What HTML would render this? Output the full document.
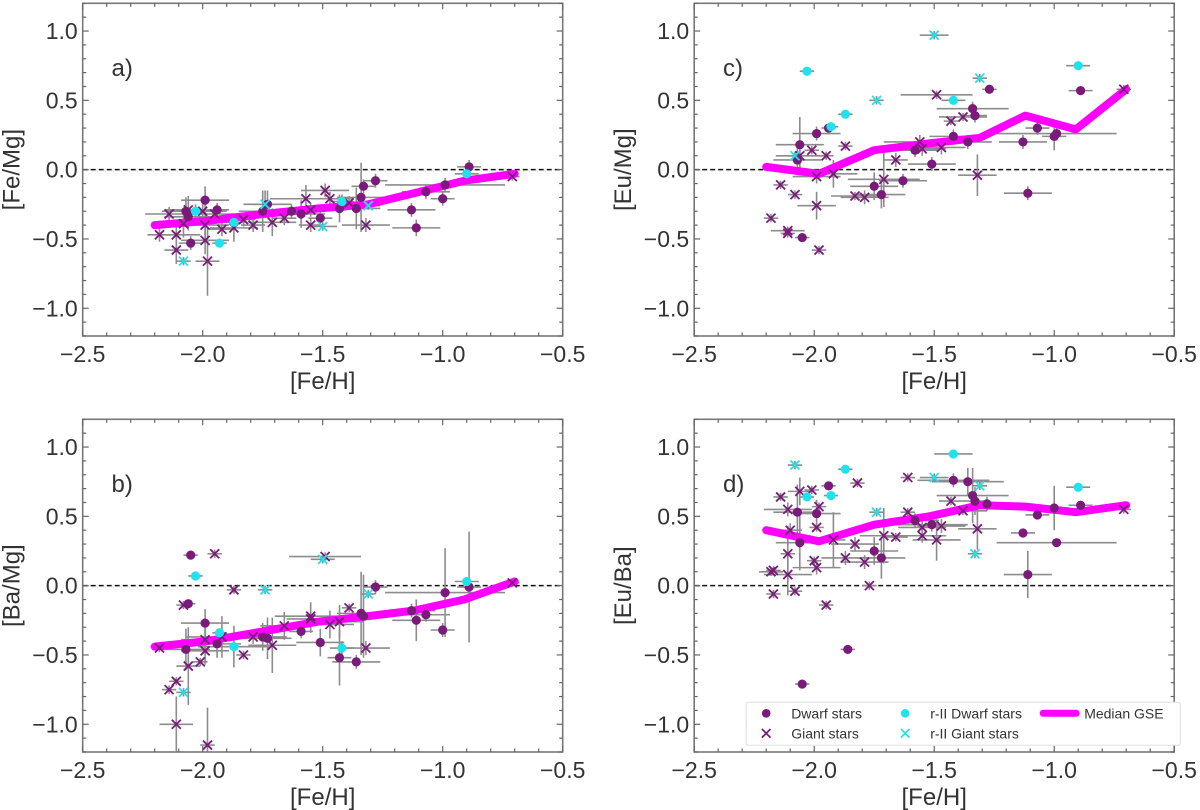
<!DOCTYPE html>
<html><head><meta charset="utf-8">
<style>
html,body{margin:0;padding:0;background:#fff;}
svg{display:block;font-family:"Liberation Sans",sans-serif;}
</style></head>
<body>
<svg id="fig" width="1200" height="810" viewBox="0 0 1200 810" xmlns="http://www.w3.org/2000/svg"></svg>
<script>
// ---- data: each entry [FeH, ratio, xerr, yerr] ----
const medX = [-2.20,-1.98,-1.75,-1.52,-1.31,-1.12,-0.91,-0.70];

// Panel a [Fe/Mg]
const aDwarf = [[-2.07,-0.30,0.1,0.1],[-2.06,-0.34,0.1,0.1],[-2.05,-0.53,0.05,0.05],[-1.99,-0.22,0.1,0.1],[-1.94,-0.29,0.05,0.05],[-1.75,-0.30,0.1,0.15],[-1.73,-0.25,0.1,0.1],[-1.63,-0.30,0.05,0.05],[-1.59,-0.32,0.1,0.1],[-1.51,-0.35,0.05,0.05],[-1.43,-0.28,0.1,0.1],[-1.36,-0.28,0.1,0.15],[-1.34,-0.20,0.1,0.25],[-1.33,-0.12,0.05,0.05],[-1.28,-0.08,0.05,0.05],[-1.13,-0.29,0.1,0.05],[-1.11,-0.42,0.1,0.06],[-1.07,-0.16,0.1,0.05],[-1.00,-0.21,0.05,0.05],[-0.99,-0.11,0.25,0.05],[-0.89,0.02,0.05,0.05]];
const aGiant = [[-2.18,-0.47,0.05,0.05],[-2.14,-0.32,0.1,0.05],[-2.11,-0.47,0.1,0.1],[-2.11,-0.58,0.05,0.1],[-2.08,-0.39,0.1,0.1],[-2.06,-0.29,0.1,0.1],[-2.00,-0.30,0.1,0.1],[-1.99,-0.51,0.1,0.1],[-1.99,-0.40,0.1,0.1],[-1.98,-0.66,0.05,0.25],[-1.95,-0.32,0.1,0.05],[-1.92,-0.43,0.05,0.05],[-1.87,-0.42,0.1,0.1],[-1.83,-0.36,0.05,0.05],[-1.79,-0.40,0.05,0.05],[-1.71,-0.38,0.1,0.1],[-1.66,-0.35,0.05,0.05],[-1.57,-0.21,0.15,0.1],[-1.55,-0.29,0.15,0.05],[-1.55,-0.40,0.05,0.05],[-1.49,-0.15,0.1,0.05],[-1.47,-0.21,0.1,0.05],[-1.39,-0.24,0.05,0.05],[-1.32,-0.40,0.1,0.05],[-0.71,-0.05,0.03,0.03]];
const aRDwarf = [[-2.03,-0.30,0.05,0.05],[-1.93,-0.53,0.03,0.03],[-1.87,-0.38,0.05,0.05],[-1.42,-0.23,0.05,0.05],[-0.90,-0.03,0.05,0.03]];
const aRGiant = [[-2.08,-0.66,0.03,0.03],[-1.74,-0.25,0.05,0.1],[-1.50,-0.41,0.06,0.03],[-1.31,-0.26,0.05,0.03]];
const aMed = [-0.40,-0.37,-0.32,-0.28,-0.25,-0.17,-0.08,-0.03];

// Panel b [Ba/Mg]
const bDwarf = [[-2.05,0.22,0.03,0.03],[-2.06,-0.13,0.03,0.03],[-2.07,-0.46,0.1,0.15],[-1.99,-0.27,0.1,0.1],[-1.94,-0.42,0.1,0.1],[-1.75,-0.37,0.1,0.1],[-1.73,-0.38,0.1,0.15],[-1.59,-0.33,0.05,0.05],[-1.51,-0.41,0.1,0.1],[-1.43,-0.52,0.05,0.2],[-1.36,-0.55,0.1,0.05],[-1.34,-0.20,0.1,0.3],[-1.33,-0.22,0.1,0.3],[-1.28,-0.01,0.05,0.05],[-1.13,-0.18,0.1,0.05],[-1.11,-0.25,0.1,0.15],[-1.07,-0.21,0.1,0.05],[-1.00,-0.32,0.05,0.05],[-0.99,-0.05,0.25,0.32],[-0.89,-0.01,0.05,0.4]];
const bGiant = [[-2.18,-0.45,0.03,0.03],[-2.14,-0.75,0.03,0.03],[-2.11,-1.00,0.07,0.2],[-2.11,-0.69,0.03,0.03],[-2.08,-0.14,0.03,0.03],[-2.06,-0.58,0.05,0.28],[-2.01,-0.55,0.03,0.03],[-1.99,-0.47,0.1,0.1],[-1.99,-0.39,0.1,0.1],[-1.98,-1.15,0.03,0.27],[-1.95,0.23,0.03,0.03],[-1.92,-0.37,0.15,0.15],[-1.87,-0.03,0.03,0.03],[-1.83,-0.50,0.03,0.03],[-1.79,-0.37,0.1,0.05],[-1.71,-0.43,0.1,0.2],[-1.66,-0.29,0.1,0.1],[-1.55,-0.22,0.15,0.1],[-1.55,-0.24,0.1,0.1],[-1.49,0.21,0.15,0.03],[-1.47,-0.28,0.1,0.1],[-1.43,-0.26,0.1,0.12],[-1.39,-0.16,0.03,0.03],[-1.32,-0.45,0.1,0.05],[-0.71,0.02,0.03,0.03]];
const bRDwarf = [[-2.03,0.07,0.03,0.03],[-1.93,-0.34,0.03,0.03],[-1.87,-0.44,0.15,0.15],[-1.42,-0.45,0.05,0.05],[-0.90,0.03,0.05,0.03]];
const bRGiant = [[-2.08,-0.77,0.03,0.03],[-1.74,-0.03,0.03,0.03],[-1.50,0.19,0.05,0.03],[-1.31,-0.06,0.03,0.03]];
const bMed = [-0.44,-0.40,-0.33,-0.26,-0.22,-0.18,-0.10,0.03];

// Panel c [Eu/Mg]
const cDwarf = [[-2.07,0.07,0.1,0.1],[-2.06,0.18,0.1,0.2],[-2.05,-0.49,0.03,0.03],[-1.99,0.26,0.1,0.05],[-1.94,0.30,0.03,0.03],[-1.75,-0.12,0.1,0.1],[-1.72,-0.18,0.1,0.1],[-1.63,-0.08,0.1,0.05],[-1.58,0.14,0.1,0.05],[-1.51,0.04,0.1,0.05],[-1.42,0.24,0.1,0.05],[-1.36,0.20,0.1,0.05],[-1.34,0.44,0.15,0.05],[-1.33,0.39,0.05,0.05],[-1.27,0.58,0.03,0.03],[-1.13,0.20,0.1,0.05],[-1.11,-0.17,0.1,0.05],[-1.07,0.30,0.05,0.05],[-1.00,0.24,0.05,0.1],[-0.99,0.26,0.25,0.05],[-0.89,0.57,0.05,0.03]];
const cGiant = [[-2.18,-0.35,0.03,0.03],[-2.14,-0.11,0.03,0.03],[-2.11,-0.44,0.07,0.03],[-2.11,-0.46,0.03,0.03],[-2.08,-0.18,0.03,0.03],[-2.06,0.10,0.1,0.1],[-2.01,0.14,0.03,0.03],[-1.99,-0.05,0.1,0.05],[-1.99,-0.26,0.08,0.1],[-1.98,-0.58,0.03,0.03],[-1.95,0.10,0.03,0.03],[-1.92,-0.03,0.1,0.1],[-1.87,0.17,0.03,0.03],[-1.83,-0.19,0.1,0.03],[-1.79,-0.20,0.1,0.05],[-1.71,-0.07,0.15,0.2],[-1.66,0.07,0.05,0.05],[-1.56,0.20,0.15,0.05],[-1.55,0.15,0.1,0.05],[-1.49,0.54,0.15,0.03],[-1.47,0.16,0.1,0.05],[-1.43,0.35,0.03,0.03],[-1.38,0.38,0.1,0.03],[-1.32,-0.04,0.08,0.15],[-0.71,0.58,0.03,0.03]];
const cRDwarf = [[-2.03,0.71,0.03,0.03],[-1.93,0.31,0.03,0.03],[-1.87,0.40,0.03,0.03],[-1.42,0.50,0.05,0.03],[-0.90,0.75,0.05,0.03]];
const cRGiant = [[-2.08,0.10,0.03,0.03],[-1.74,0.50,0.03,0.03],[-1.50,0.97,0.06,0.03],[-1.31,0.66,0.03,0.03]];
const cMed = [0.02,-0.03,0.14,0.19,0.23,0.39,0.29,0.58];

// Panel d [Eu/Ba]
const dDwarf = [[-2.07,0.53,0.1,0.2],[-2.06,0.31,0.1,0.2],[-2.05,-0.71,0.03,0.03],[-1.99,0.52,0.1,0.1],[-1.94,0.72,0.03,0.03],[-1.86,-0.46,0.03,0.03],[-1.75,0.25,0.1,0.1],[-1.72,0.20,0.1,0.15],[-1.58,0.47,0.1,0.05],[-1.51,0.44,0.15,0.05],[-1.42,0.76,0.15,0.05],[-1.36,0.75,0.15,0.1],[-1.34,0.65,0.15,0.2],[-1.33,0.61,0.05,0.1],[-1.28,0.59,0.05,0.05],[-1.13,0.38,0.05,0.03],[-1.11,0.08,0.1,0.17],[-1.07,0.51,0.05,0.03],[-1.00,0.56,0.05,0.16],[-0.99,0.31,0.25,0.03],[-0.89,0.58,0.05,0.03]];
const dGiant = [[-2.18,0.10,0.05,0.03],[-2.17,0.11,0.03,0.03],[-2.17,-0.06,0.03,0.03],[-2.14,0.64,0.03,0.03],[-2.11,0.55,0.1,0.05],[-2.11,0.08,0.1,0.15],[-2.10,0.40,0.05,0.05],[-2.11,0.23,0.03,0.2],[-2.08,-0.04,0.03,0.03],[-2.06,0.68,0.05,0.1],[-2.01,0.69,0.03,0.03],[-2.00,0.18,0.03,0.03],[-1.99,0.13,0.1,0.05],[-1.99,0.42,0.03,0.03],[-1.98,0.57,0.03,0.03],[-1.95,-0.14,0.03,0.03],[-1.92,0.33,0.05,0.2],[-1.87,0.20,0.1,0.05],[-1.83,0.30,0.1,0.05],[-1.82,0.74,0.03,0.03],[-1.79,0.17,0.1,0.05],[-1.77,0.00,0.03,0.03],[-1.71,0.36,0.1,0.2],[-1.66,0.35,0.05,0.03],[-1.61,0.78,0.03,0.03],[-1.61,0.53,0.03,0.03],[-1.55,0.42,0.1,0.05],[-1.55,0.36,0.1,0.05],[-1.49,0.33,0.1,0.15],[-1.47,0.43,0.1,0.05],[-1.43,0.61,0.05,0.03],[-1.38,0.54,0.1,0.03],[-1.32,0.41,0.08,0.15],[-0.71,0.55,0.03,0.03]];
const dRDwarf = [[-2.03,0.64,0.03,0.03],[-1.93,0.65,0.03,0.03],[-1.87,0.84,0.03,0.03],[-1.42,0.95,0.08,0.03],[-0.90,0.71,0.05,0.03]];
const dRGiant = [[-2.08,0.87,0.03,0.03],[-1.74,0.53,0.03,0.03],[-1.50,0.78,0.06,0.03],[-1.33,0.23,0.03,0.03],[-1.31,0.72,0.03,0.03]];
const dMed = [0.40,0.32,0.44,0.50,0.58,0.57,0.53,0.58];

const xTicks = [-2.5,-2.0,-1.5,-1.0,-0.5];
const xTickLabels = ["\u22122.5","\u22122.0","\u22121.5","\u22121.0","\u22120.5"];
const yTicks = [1.0,0.5,0.0,-0.5,-1.0];
const yTickLabels = ["1.0","0.5","0.0","\u22120.5","\u22121.0"];

const NS = "http://www.w3.org/2000/svg";
const svg = document.getElementById('fig');
function mk(tag, attrs, parent){
  const e = document.createElementNS(NS, tag);
  for (const k in attrs) e.setAttribute(k, attrs[k]);
  (parent||svg).appendChild(e);
  return e;
}
const PW = 480, PH = 332.7;
const XMIN = -2.5, XMAX = -0.5, YMIN = -1.2, YMAX = 1.2;
const PURPLE = "#7a1a7a", CYAN = "#1fe3ec", MAG = "#ff00ff";

function panel(L, T, name, letter, ylabel, dw, gi, rdw, rgi, med, legend){
  const g = mk('g', {});
  
  
  const sx = v => L + (v - XMIN) / (XMAX - XMIN) * PW;
  const sy = v => T + (YMAX - v) / (YMAX - YMIN) * PH;
  const clipId = name + '-clip';
  const cp = mk('clipPath', {id: clipId}, g);
  mk('rect', {x: L, y: T, width: PW, height: PH}, cp);
  const plot = mk('g', {'clip-path': 'url(#' + clipId + ')'}, g);
  
  
  // zero line
  const zl = mk('line', {x1: L, x2: L + PW, y1: sy(0), y2: sy(0), stroke: '#111', 'stroke-width': 1.5, 'stroke-dasharray': '5,3'}, plot);
  
  
  // error bars
  const eg = mk('g', {stroke: '#8c8c8c', 'stroke-width': 1.6}, plot);
  
  
  [dw, gi, rdw, rgi].forEach(arr => arr.forEach(p => {
    mk('line', {x1: sx(p[0] - p[2]), x2: sx(p[0] + p[2]), y1: sy(p[1]), y2: sy(p[1])}, eg);
    mk('line', {x1: sx(p[0]), x2: sx(p[0]), y1: sy(p[1] - p[3]), y2: sy(p[1] + p[3])}, eg);
  }));
  // median line
  const pts = medX.map((x, i) => sx(x).toFixed(1) + ',' + sy(med[i]).toFixed(1)).join(' ');
  const ml = mk('polyline', {points: pts, fill: 'none', stroke: MAG, 'stroke-width': 8, 'stroke-linecap': 'round', 'stroke-linejoin': 'round'}, plot);
  
  
  function dots(arr, col, nm){
    const sg = mk('g', {}, plot);
    
    
    arr.forEach(p => {
      const c = mk('circle', {cx: sx(p[0]), cy: sy(p[1]), r: 4.6, fill: col}, sg);
      
      
    });
  }
  function crosses(arr, col, nm){
    const sg = mk('g', {stroke: col, 'stroke-width': 1.8}, plot);
    
    
    arr.forEach(p => {
      const x = sx(p[0]), y = sy(p[1]), s = 4.5;
      const pth = mk('path', {d: `M${x-s},${y-s}L${x+s},${y+s}M${x-s},${y+s}L${x+s},${y-s}`, fill: 'none'}, sg);
      
      
    });
  }
  dots(dw, PURPLE, 'dwarf-stars');
  crosses(gi, PURPLE, 'giant-stars');
  dots(rdw, CYAN, 'r2-dwarf-stars');
  crosses(rgi, CYAN, 'r2-giant-stars');
  // frame
  const fr = mk('rect', {x: L, y: T, width: PW, height: PH, fill: 'none', stroke: '#777', 'stroke-width': 1.6}, g);
  
  
  // ticks
  const tg = mk('g', {stroke: '#666', 'stroke-width': 1.2}, g);
  
  
  for (let i = 0; i <= 20; i++){
    const v = XMIN + i * 0.1, x = sx(v), len = (i % 5 === 0) ? 6 : 3.5;
    mk('line', {x1: x, x2: x, y1: T + PH, y2: T + PH - len}, tg);
    mk('line', {x1: x, x2: x, y1: T, y2: T + len}, tg);
  }
  for (let i = 0; i <= 24; i++){
    const v = YMIN + i * 0.1, y = sy(v), len = (i % 5 === 2) ? 6 : 3.5;
    mk('line', {x1: L, x2: L + len, y1: y, y2: y}, tg);
    mk('line', {x1: L + PW, x2: L + PW - len, y1: y, y2: y}, tg);
  }
  // tick labels
  const xl = mk('g', {'font-size': 23, fill: '#333', 'text-anchor': 'middle'}, g);
  
  
  xTicks.forEach((v, i) => { const t = mk('text', {x: sx(v), y: T + PH + 26}, xl); t.textContent = xTickLabels[i]; });
  const yl = mk('g', {'font-size': 23, fill: '#333', 'text-anchor': 'end'}, g);
  
  
  yTicks.forEach((v, i) => { const t = mk('text', {x: L - 5, y: sy(v) + 8}, yl); t.textContent = yTickLabels[i]; });
  // axis titles
  const xt = mk('text', {x: L + PW / 2, y: T + PH + 53, 'font-size': 24, fill: '#333', 'text-anchor': 'middle'}, g);
  xt.textContent = '[Fe/H]';
  
  
  const cy = T + PH / 2;
  const yt = mk('text', {x: L - 63, y: cy, 'font-size': 24, fill: '#333', 'text-anchor': 'middle', transform: `rotate(-90 ${L - 63} ${cy})`}, g);
  yt.textContent = ylabel;
  
  
  const pl = mk('text', {x: sx(-2.38), y: sy(0.74) + 9, 'font-size': 24, fill: '#333'}, g);
  pl.textContent = letter;
  
  
  if (legend){
    const lg = mk('g', {}, g);
    
    
    mk('rect', {x: L + 52, y: T + 283, width: 434, height: 43, fill: '#fff', stroke: '#ddd', 'stroke-width': 1, rx: 2}, lg);
    const r1 = T + 294, r2 = T + 314;
    const items = [
      ['circle', PURPLE, 'Dwarf stars', L + 72, r1, 'legend-entry-dwarf'],
      ['cross', PURPLE, 'Giant stars', L + 72, r2, 'legend-entry-giant'],
      ['circle', CYAN, 'r-II Dwarf stars', L + 211, r1, 'legend-entry-r2-dwarf'],
      ['cross', CYAN, 'r-II Giant stars', L + 211, r2, 'legend-entry-r2-giant'],
    ];
    items.forEach(it => {
      const eg2 = mk('g', {}, lg);
      
      
      if (it[0] === 'circle') mk('circle', {cx: it[3], cy: it[4], r: 4.3, fill: it[1]}, eg2);
      else { const x = it[3], y = it[4], s = 4.3; mk('path', {d: `M${x-s},${y-s}L${x+s},${y+s}M${x-s},${y+s}L${x+s},${y-s}`, stroke: it[1], 'stroke-width': 1.7}, eg2); }
      const t = mk('text', {x: it[3] + 25, y: it[4] + 5, 'font-size': 14, fill: '#333'}, eg2);
      t.textContent = it[2];
    });
    const eg3 = mk('g', {}, lg);
    
    
    mk('line', {x1: L + 349, x2: L + 382, y1: r1, y2: r1, stroke: MAG, 'stroke-width': 7, 'stroke-linecap': 'round'}, eg3);
    const t3 = mk('text', {x: L + 390, y: r1 + 5, 'font-size': 14, fill: '#333'}, eg3);
    t3.textContent = 'Median GSE';
  }
}
panel(82.7, 3.3, 'panel-a-fe-mg', 'a)', '[Fe/Mg]', aDwarf, aGiant, aRDwarf, aRGiant, aMed, false);
panel(694.2, 3.3, 'panel-c-eu-mg', 'c)', '[Eu/Mg]', cDwarf, cGiant, cRDwarf, cRGiant, cMed, false);
panel(82.7, 419.3, 'panel-b-ba-mg', 'b)', '[Ba/Mg]', bDwarf, bGiant, bRDwarf, bRGiant, bMed, false);
panel(694.2, 419.3, 'panel-d-eu-ba', 'd)', '[Eu/Ba]', dDwarf, dGiant, dRDwarf, dRGiant, dMed, true);
</script>
</body></html>
